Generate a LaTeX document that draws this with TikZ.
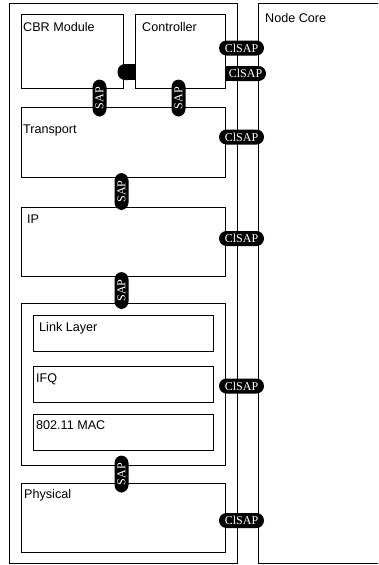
\documentclass[tikz,border=0pt]{standalone}
\usepackage{fontspec}
\setmainfont{Liberation Sans}
\newfontfamily\pillfont{Liberation Serif}
\begin{document}
\begin{tikzpicture}[x=1pt,y=-1pt,
  box/.style={draw=black,line width=0.7pt,rectangle,inner sep=0pt,outer sep=0pt,anchor=north west},
  lbl/.style={anchor=base west,inner sep=0pt,font=\fontsize{12.6}{14}\selectfont},
  pill/.style={fill=black,rectangle,rounded corners=7.5pt,inner sep=0pt,outer sep=0pt,
    minimum height=15pt,text=white,font=\pillfont\fontsize{12}{13}\selectfont},
  hpill/.style={pill,minimum width=45pt},
  vpill/.style={pill,minimum width=37pt,minimum height=14pt,rotate=90}]
\useasboundingbox (0,0) rectangle (378,565);
\clip (0,0) rectangle (378,565);
% main boxes
\node[box,minimum width=228pt,minimum height=560pt] (outer) at (9,3) {};
\node[box,minimum width=150pt,minimum height=560pt] (core) at (258,3) {};
\node[lbl] (corel) at (265,22) {Node Core};
\node[box,minimum width=102pt,minimum height=74pt] (cbr) at (21,14) {};
\node[lbl] (cbrl) at (23,31) {CBR Module};
\node[box,minimum width=90pt,minimum height=74pt] (ctrl) at (135,14) {};
\node[lbl] (ctrll) at (142,31) {Controller};
\node[box,minimum width=204pt,minimum height=70pt] (tr) at (21,107) {};
\node[lbl] (trl) at (23,133) {Transport};
\node[box,minimum width=204pt,minimum height=69pt] (ip) at (21,207) {};
\node[lbl] (ipl) at (27,223) {IP};
\node[box,minimum width=204pt,minimum height=162pt] (link) at (21,303) {};
\node[box,minimum width=180pt,minimum height=36pt] (ll) at (33,315) {};
\node[lbl] (lll) at (39,331) {Link Layer};
\node[box,minimum width=180pt,minimum height=36pt] (ifq) at (33,366) {};
\node[lbl] (ifql) at (36,382) {IFQ};
\node[box,minimum width=180pt,minimum height=36pt] (mac) at (33,414) {};
\node[lbl] (macl) at (36,429) {802.11 MAC};
\node[box,minimum width=204pt,minimum height=69pt] (phy) at (21,483) {};
\node[lbl] (phyl) at (24,498) {Physical};
% blob between CBR and Controller
\fill[black] (126,64) rectangle (135,80);
\node[pill,minimum width=18pt,minimum height=16pt] (blob) at (126.5,72) {};
% ClSAPs
\node[hpill] (cs1) at (241.5,48) {ClSAP};
\fill[black] (225,66) rectangle (246,81);
\node[pill,minimum width=41pt] (cs2) at (245.5,73.5) {ClSAP};
\node[hpill] (cs3) at (241.5,137) {ClSAP};
\node[hpill] (cs4) at (241.5,238.5) {ClSAP};
\node[hpill] (cs5) at (241.5,386) {ClSAP};
\node[hpill] (cs6) at (241.5,520.5) {ClSAP};
% SAPs
\node[vpill] (s1) at (99.5,98) {SAP};
\node[vpill] (s2) at (178.5,98) {SAP};
\node[vpill] (s3) at (121.5,191.5) {SAP};
\node[vpill] (s4) at (121.5,290.5) {SAP};
\node[vpill] (s5) at (121.5,474) {SAP};
\end{tikzpicture}
\end{document}
